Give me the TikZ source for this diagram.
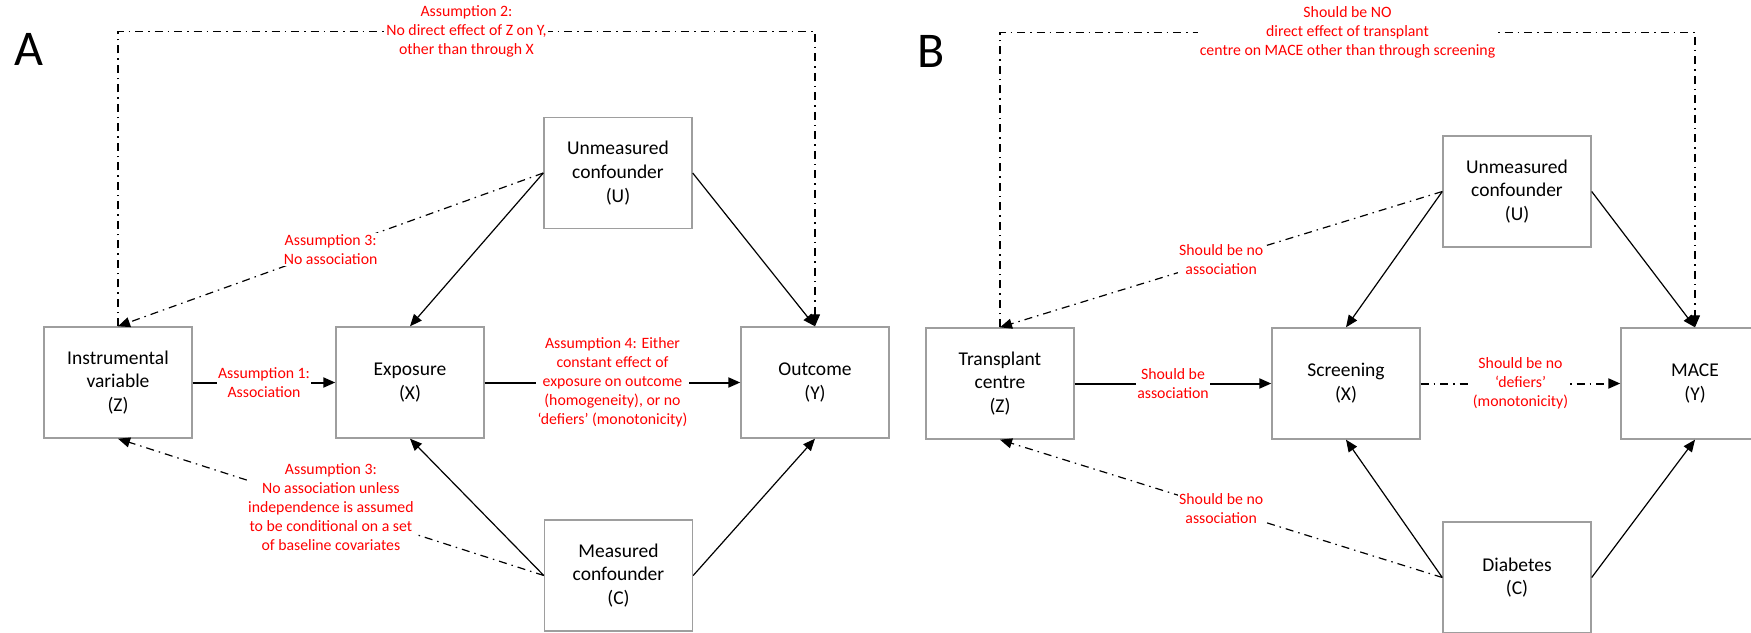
\documentclass[tikz,border=0pt]{standalone}
\usepackage{fontspec}
\setmainfont{Carlito}
\usetikzlibrary{arrows.meta}
\begin{document}
\begin{tikzpicture}[x=1pt,y=-1pt,
  box/.style={draw=black!38, line width=1.4pt, fill=white, minimum width=148pt,
    minimum height=111pt, inner sep=0pt, align=center,
    font=\fontsize{19.5}{23.8}\selectfont},
  lbl/.style={fill=white, text=red, align=center, inner sep=1.5pt,
    font=\fontsize{15.8}{19}\selectfont},
  conn/.style={line width=1.2pt, -{Triangle[length=12pt,width=10pt]}},
  boldconn/.style={conn, line width=2pt},
  dashdot/.style={dash pattern=on 8pt off 5pt on 1.5pt off 5pt},
  panel/.style={font=\fontsize{50}{60}\selectfont, anchor=base, inner sep=0pt}
]
\clip (0,0) rectangle (1751,632);
\fill[white] (0,0) rectangle (1751,632);

% ---------- Panel A: general instrumental-variable diagram ----------
\node[panel] (pa) at (29,65) {A};
\node[box] (az) at (118,382.5) {Instrumental\\variable\\(Z)};
\node[box] (ax) at (410,382.5) {Exposure\\(X)};
\node[box] (ay) at (815,382.5) {Outcome\\(Y)};
\node[box] (au) at (618,173) {Unmeasured\\confounder\\(U)};
\node[box] (ac) at (618.5,575.5) {Measured\\confounder\\(C)};

\draw[conn] (au.west) -- (ax.north);
\draw[conn] (au.east) -- (ay.north);
\draw[conn] (ac.west) -- (ax.south);
\draw[conn] (ac.east) -- (ay.south);
\draw[boldconn] (az) -- node[lbl] {Assumption 1:\\Association} (ax);
\draw[boldconn] (ax) -- node[lbl] {Assumption 4: Either\\constant effect of\\exposure on outcome\\(homogeneity), or no\\‘defiers’ (monotonicity)} (ay);
\draw[conn, dashdot] (au.west) -- node[lbl] {Assumption 3:\\No association} (az.north);
\draw[conn, dashdot] (ac.west) -- node[lbl] {Assumption 3:\\No association unless\\independence is assumed\\to be conditional on a set\\of baseline covariates} (az.south);
\draw[conn, dashdot] (az.north) -- ++(0,-295) -| node[pos=0.25, lbl] {Assumption 2:\\No direct effect of Z on Y,\\other than through X} (ay.north);

% ---------- Panel B: transplant centre as instrument ----------
\node[panel] (pb) at (931,67) {B};
\node[box] (bz) at (1000,383.5) {Transplant\\centre\\(Z)};
\node[box] (bx) at (1346,383.5) {Screening\\(X)};
\node[box] (by) at (1695,383.5) {MACE\\(Y)};
\node[box] (bu) at (1517,191.5) {Unmeasured\\confounder\\(U)};
\node[box] (bc) at (1517,577.5) {Diabetes\\(C)};

\draw[conn] (bu.west) -- (bx.north);
\draw[conn] (bu.east) -- (by.north);
\draw[conn] (bc.west) -- (bx.south);
\draw[conn] (bc.east) -- (by.south);
\draw[boldconn] (bz) -- node[lbl] {Should be\\association} (bx);
\draw[boldconn, dashdot] (bx) -- node[lbl] {Should be no\\‘defiers’\\(monotonicity)} (by);
\draw[conn, dashdot] (bu.west) -- node[lbl] {Should be no\\association} (bz.north);
\draw[conn, dashdot] (bc.west) -- node[lbl] {Should be no\\association} (bz.south);
\draw[conn, dashdot] (bz.north) -- ++(0,-295) -| node[pos=0.25, lbl] {Should be NO\\direct effect of transplant\\centre on MACE other than through screening} (by.north);
\end{tikzpicture}
\end{document}
